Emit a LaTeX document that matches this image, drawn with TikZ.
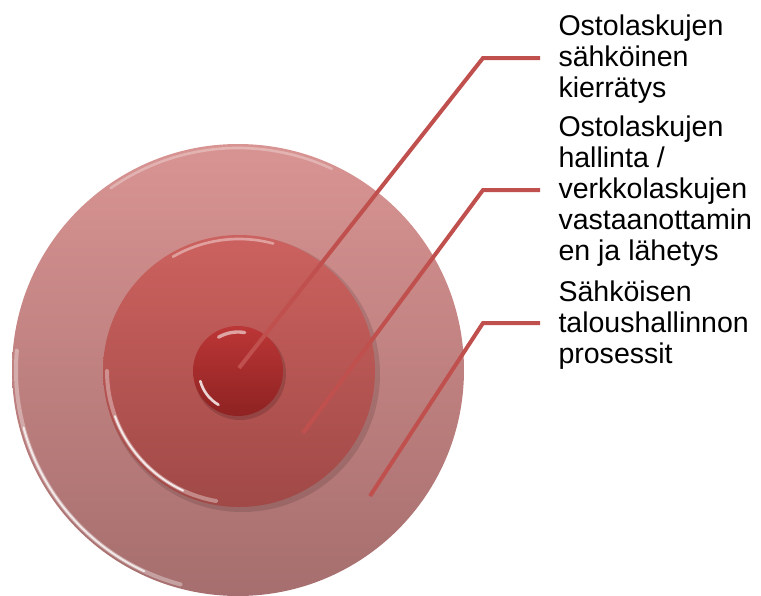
\documentclass[tikz,border=0pt]{standalone}
\usepackage{fontspec}
\setmainfont{Liberation Sans}
\definecolor{leadred}{HTML}{C0504D}
\definecolor{outertop}{HTML}{D89492}
\definecolor{outerbot}{HTML}{A66E6E}
\definecolor{midtop}{HTML}{CC625F}
\definecolor{midbot}{HTML}{A04947}
\definecolor{coretop}{HTML}{BC3636}
\definecolor{corebot}{HTML}{8E2222}

\tikzset{every picture/.style={line width=0.75pt}}
\tikzset{
  disk/.style={circle, inner sep=0pt},
  gloss/.style={white, line cap=round},
  leader/.style={leadred, line width=3pt},
  lbl/.style={anchor=base west, inner sep=0pt, align=left, font=\fontsize{21.4pt}{23.25pt}\selectfont}
}

\begin{document}
\begin{tikzpicture}[x=0.75pt,y=0.75pt,yscale=-1,xscale=1]
\useasboundingbox (0,0) rectangle (761,596);
%Shape: Circle [outer ring]
\node[disk, minimum size=339pt, top color=outertop, bottom color=outerbot] (outer) at (238,370) {};
\draw[gloss, opacity=0.3, line width=2pt] (outer.center) ++(235:222) arc[start angle=235, end angle=295, radius=222];
\draw[gloss, opacity=0.35, line width=3pt] (outer.center) ++(185:222) arc[start angle=185, end angle=105, radius=222];
\draw[gloss, opacity=0.75, line width=1.5pt] (outer.center) ++(165:222) arc[start angle=165, end angle=115, radius=222];
%Shape: Circle [middle ring]
\fill[black, opacity=0.12] (242,374) circle (138);
\node[disk, minimum size=204pt, top color=midtop, bottom color=midbot] (middle) at (239,371) {};
\draw[gloss, opacity=0.4, line width=2pt] (middle.center) ++(240:132) arc[start angle=240, end angle=285, radius=132];
\draw[gloss, opacity=0.35, line width=3pt] (middle.center) ++(180:132) arc[start angle=180, end angle=100, radius=132];
\draw[gloss, opacity=0.8, line width=1.5pt] (middle.center) ++(160:132) arc[start angle=160, end angle=115, radius=132];
%Shape: Circle [core]
\fill[black, opacity=0.15] (240,374) circle (46);
\node[disk, minimum size=67.5pt, top color=coretop, bottom color=corebot] (core) at (238,371) {};
\draw[gloss, opacity=0.55, line width=2.5pt] (core.center) ++(240:39) arc[start angle=240, end angle=280, radius=39];
\draw[gloss, opacity=0.8, line width=2pt] (core.center) ++(165:39) arc[start angle=165, end angle=120, radius=39];

%Leader lines
\coordinate (c1) at (239,368);
\coordinate (c2) at (303,433);
\coordinate (c3) at (370,496);
\coordinate (e1) at (483,58);
\coordinate (e2) at (483,190);
\coordinate (e3) at (483,323);

% Text Node
\node[lbl] (t1) at (558,97) {Ostolaskujen\\sähköinen\\kierrätys};
% Text Node
\node[lbl] (t2) at (558,260) {Ostolaskujen\\hallinta /\\verkkolaskujen\\vastaanottamin\\en ja lähetys};
% Text Node
\node[lbl] (t3) at (558,363) {Sähköisen\\taloushallinnon\\prosessit};

\draw[leader, shorten >=13.5pt] (c1) -- (e1) -- (e1 -| t1.west);
\draw[leader, shorten >=13.5pt] (c2) -- (e2) -- (e2 -| t2.west);
\draw[leader, shorten >=13.5pt] (c3) -- (e3) -- (e3 -| t3.west);
\end{tikzpicture}
\end{document}
